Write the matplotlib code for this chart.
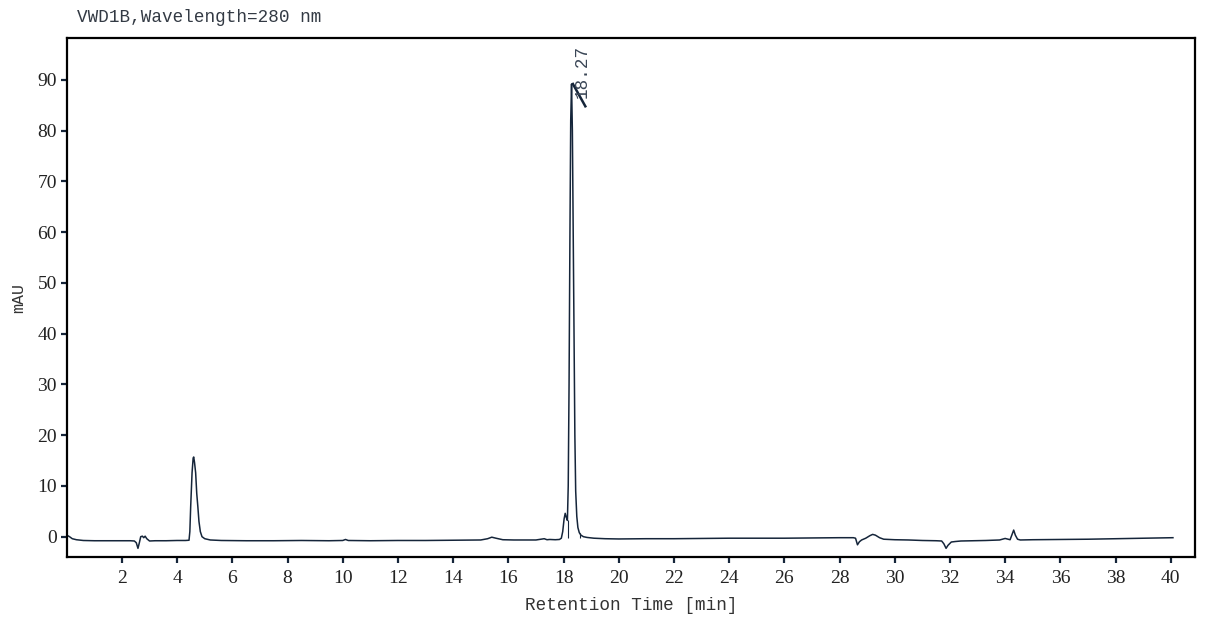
import matplotlib
matplotlib.use("Agg")
import matplotlib.pyplot as plt

# retention time (min) and detector signal (mAU)
time = [0.0, 0.1, 0.2, 0.35, 0.6, 1.0, 1.5, 2.0, 2.3, 2.45, 2.52, 2.58, 2.63,
        2.68, 2.74, 2.79, 2.84, 2.9, 3.0, 3.2, 3.6, 4.0, 4.3, 4.43, 4.46, 4.49,
        4.54, 4.58, 4.60, 4.63, 4.67, 4.71, 4.75, 4.79, 4.84, 4.90, 5.0, 5.2,
        5.6, 6.5, 7.5, 8.5, 9.5, 10.0, 10.1, 10.2, 11.0, 12.0, 13.0, 14.0, 15.0,
        15.25, 15.4, 15.55, 15.8, 16.2, 17.0, 17.3, 17.4, 17.5, 17.7, 17.85,
        17.92, 17.97, 18.02, 18.06, 18.10, 18.14, 18.17, 18.20, 18.23, 18.26,
        18.29, 18.32, 18.35, 18.38, 18.41, 18.44, 18.48, 18.52, 18.57, 18.63,
        18.72, 18.85, 19.1, 19.5, 20.0, 21.0, 22.0, 23.0, 24.0, 25.0, 26.0,
        27.0, 28.0, 28.5, 28.58, 28.65, 28.72, 28.8, 28.95, 29.1, 29.2, 29.3,
        29.45, 29.6, 30.0, 30.5, 31.0, 31.5, 31.7, 31.78, 31.86, 31.93, 32.05,
        32.2, 32.4, 32.8, 33.3, 33.8, 34.0, 34.1, 34.18, 34.25, 34.31, 34.37,
        34.45, 34.55, 35.0, 36.0, 37.0, 38.0, 39.0, 40.08]
signal = [0.3, 0.0, -0.4, -0.6, -0.75, -0.8, -0.8, -0.8, -0.8, -0.85, -1.2,
          -2.3, -1.2, 0.0, 0.1, -0.2, 0.1, -0.4, -0.85, -0.8, -0.8, -0.75,
          -0.75, -0.7, 1.0, 5.9, 12.6, 15.5, 15.7, 14.6, 12.6, 8.5, 5.9, 3.0,
          1.0, 0.0, -0.4, -0.65, -0.75, -0.8, -0.8, -0.75, -0.8, -0.75, -0.55,
          -0.75, -0.8, -0.75, -0.75, -0.7, -0.65, -0.4, -0.1, -0.3, -0.6,
          -0.65, -0.65, -0.4, -0.6, -0.55, -0.6, -0.55, -0.3, 1.0, 3.5, 4.6,
          3.8, 3.2, 10.0, 30.0, 58.0, 82.0, 89.2, 80.0, 60.0, 38.0, 20.0, 9.0,
          4.0, 1.8, 0.8, 0.3, 0.0, -0.15, -0.3, -0.4, -0.45, -0.4, -0.4, -0.35,
          -0.3, -0.3, -0.3, -0.25, -0.2, -0.2, -0.3, -1.6, -1.0, -0.65, -0.3,
          0.2, 0.45, 0.3, -0.2, -0.5, -0.6, -0.65, -0.75, -0.8, -0.85, -1.4,
          -2.3, -1.7, -1.05, -0.95, -0.85, -0.8, -0.75, -0.65, -0.35, -0.5,
          -0.6, 0.4, 1.3, 0.3, -0.5, -0.65, -0.6, -0.55, -0.5, -0.4, -0.3, -0.2]

# integration drop lines (time, baseline, curve height)
drop_times = [18.15, 18.58]
drop_bottom = [-0.3, -0.3]
drop_top = [3.2, 0.7]

# apex label
peak_label = "18.27"
peak_time = 18.29
peak_height = 89.2

navy = "#15253a"

fig = plt.figure(figsize=(12.26, 6.34), dpi=100)
ax = fig.add_axes([0.0549, 0.121, 0.9196, 0.8186])

ax.plot(time, signal, color=navy, linewidth=1.1)
ax.vlines(drop_times, drop_bottom, drop_top, color=navy, linewidth=0.8)

# apex marker: short slanted stroke + rotated retention time
ax.plot([peak_time + 0.05, peak_time + 0.5], [peak_height, peak_height - 4.4],
        color=navy, linewidth=1.8)
ax.text(peak_time + 0.38, peak_height - 2.7, peak_label, rotation=90,
        ha="center", va="bottom", fontsize=12.7, family="Liberation Mono",
        color="#3a4656")

ax.set_xlim(0.02, 40.87)
ax.set_ylim(-4.06, 98.2)
ax.set_xticks(range(2, 41, 2))
ax.set_yticks(range(0, 91, 10))

for s in ax.spines.values():
    s.set_linewidth(1.6)
    s.set_color("#000000")

ax.tick_params(direction="out", length=4.5, width=1.6, color=navy,
               labelsize=14, labelcolor="#222222", pad=3)
ax.tick_params(axis="x", pad=5)
for lab in ax.get_xticklabels() + ax.get_yticklabels():
    lab.set_family("Liberation Serif")

ax.set_xlabel("Retention Time [min]", fontsize=12.7, family="Liberation Mono",
              color="#333333", labelpad=7)
ax.set_ylabel("mAU", fontsize=12, family="Liberation Mono", color="#333333",
              labelpad=8)

fig.text(77 / 1226, 1 - 18 / 634, "VWD1B,Wavelength=280 nm", ha="left",
         va="center", fontsize=12.7, family="Liberation Mono", color="#333a44")

fig.savefig("out.png", dpi=100)
